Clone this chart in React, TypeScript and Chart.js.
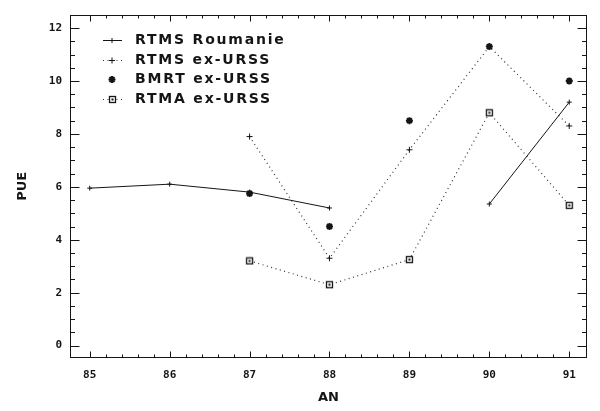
import React, { useEffect, useRef } from 'react';
import { Chart, registerables } from 'chart.js';

Chart.register(...registerables);

// ---- data ----
const years = [85, 86, 87, 88, 89, 90, 91];
const yearLabels = ['85', '86', '87', '88', '89', '90', '91'];
const pueTicks = [0, 2, 4, 6, 8, 10, 12];
const pueTickLabels = ['0', '2', '4', '6', '8', '10', '12'];

const seriesLabels = ['RTMS Roumanie', 'RTMS ex-URSS', 'BMRT ex-URSS', 'RTMA ex-URSS'];
const rtmsRoumanie = [5.95, 6.1, 5.8, 5.2, null, 5.35, 9.2];
const rtmsExUrss = [null, null, 7.9, 3.3, 7.4, 11.3, 8.3];
const bmrtExUrss = [null, null, 5.75, 4.5, 8.5, 11.3, 10.0];
const rtmaExUrss = [null, null, 3.2, 2.3, 3.25, 8.8, 5.3];

const INK = '#151515';

function makeSquareMarker(): HTMLCanvasElement {
  const c = document.createElement('canvas');
  c.width = 9;
  c.height = 9;
  const g = c.getContext('2d')!;
  g.fillStyle = '#fff';
  g.fillRect(1, 1, 7, 7);
  g.strokeStyle = INK;
  g.lineWidth = 1.3;
  g.strokeRect(1.5, 1.5, 6, 6);
  g.fillStyle = INK;
  g.fillRect(3.5, 3.5, 2, 2);
  return c;
}

function toPoints(arr: (number | null)[]) {
  return years.map((x, i) => ({ x, y: arr[i] }));
}

function drawMarker(ctx: CanvasRenderingContext2D, style: any, x: number, y: number, r: number, lw: number) {
  if (style instanceof HTMLCanvasElement) {
    ctx.drawImage(style, Math.round(x - style.width / 2), Math.round(y - style.height / 2));
    return;
  }
  ctx.save();
  ctx.setLineDash([]);
  ctx.lineWidth = lw;
  ctx.strokeStyle = INK;
  ctx.beginPath();
  ctx.moveTo(x - r, y);
  ctx.lineTo(x + r, y);
  ctx.moveTo(x, y - r);
  ctx.lineTo(x, y + r);
  if (style === 'star') {
    const d = r * 0.7071;
    ctx.moveTo(x - d, y - d);
    ctx.lineTo(x + d, y + d);
    ctx.moveTo(x - d, y + d);
    ctx.lineTo(x + d, y - d);
  }
  ctx.stroke();
  ctx.restore();
}

const framePlugin = {
  id: 'frameTicks',
  beforeDatasetsDraw(chart: any) {
    const { ctx, chartArea: a, scales } = chart;
    const xs = scales.x;
    const ys = scales.y;
    ctx.save();
    ctx.strokeStyle = INK;
    ctx.lineWidth = 1;
    ctx.setLineDash([]);
    const L = Math.round(a.left) + 0.5;
    const R = Math.round(a.right) - 0.5;
    const T = Math.round(a.top) + 0.5;
    const B = Math.round(a.bottom) - 0.5;
    ctx.strokeRect(L, T, R - L, B - T);
    ctx.beginPath();
    // y ticks (every 0.5, major every 2)
    for (let k = 0; k * 0.5 <= 12; k++) {
      const v = k * 0.5;
      const major = pueTicks.includes(v);
      const len = major ? 9 : 4.5;
      const py = Math.round(ys.getPixelForValue(v)) + 0.5;
      ctx.moveTo(L, py);
      ctx.lineTo(L + len, py);
      ctx.moveTo(R, py);
      ctx.lineTo(R - len, py);
    }
    // x ticks (every 0.2, major every year)
    for (let k = 0; k <= 30; k++) {
      const v = years[0] + k * 0.2;
      const major = k % 5 === 0;
      const len = major ? 6 : 3;
      const px = Math.round(xs.getPixelForValue(v)) + 0.5;
      ctx.moveTo(px, B);
      ctx.lineTo(px, B - len);
      ctx.moveTo(px, T);
      ctx.lineTo(px, T + len);
    }
    ctx.stroke();
    ctx.restore();
  },
};

const legendPlugin = {
  id: 'plotterLegend',
  afterDatasetsDraw(chart: any) {
    const { ctx } = chart;
    ctx.save();
    chart.data.datasets.forEach((ds: any, i: number) => {
      const cy = Math.round(40 + 19.5 * i) + 0.5;
      if (ds.showLine !== false) {
        ctx.save();
        ctx.strokeStyle = ds.borderColor;
        ctx.lineWidth = ds.borderWidth;
        ctx.setLineDash(ds.borderDash || []);
        ctx.beginPath();
        ctx.moveTo(103, cy);
        ctx.lineTo(122, cy);
        ctx.stroke();
        ctx.restore();
      }
      drawMarker(ctx, ds.pointStyle, 112, cy, ds.pointRadius, ds.pointBorderWidth || 1);
      ctx.fillStyle = INK;
      ctx.font = 'bold 14px "DejaVu Sans"';
      ctx.textBaseline = 'middle';
      ctx.textAlign = 'left';
      try {
        (ctx as any).letterSpacing = '1.8px';
      } catch (e) {}
      ctx.fillText(ds.label, 135, cy);
      try {
        (ctx as any).letterSpacing = '0px';
      } catch (e) {}
    });
    ctx.restore();
  },
};

export default function App() {
  const ref = useRef<HTMLCanvasElement | null>(null);

  useEffect(() => {
    document.body.style.margin = '0';
    document.body.style.background = '#fff';
    const square = makeSquareMarker();
    const tickFont = { family: 'DejaVu Sans Mono', size: 11, weight: 'bold' as const };
    const titleFont = { family: 'DejaVu Sans', size: 13, weight: 'bold' as const };

    const chart = new Chart(ref.current!, {
      type: 'line',
      data: {
        datasets: [
          {
            label: seriesLabels[0],
            data: toPoints(rtmsRoumanie),
            borderColor: INK,
            borderWidth: 1,
            pointStyle: 'cross',
            pointRadius: 2.5,
            pointBorderWidth: 1,
            pointBorderColor: INK,
            spanGaps: false,
          },
          {
            label: seriesLabels[1],
            data: toPoints(rtmsExUrss),
            borderColor: '#333',
            borderWidth: 1.2,
            borderDash: [1, 3.5],
            pointStyle: 'cross',
            pointRadius: 3,
            pointBorderWidth: 1,
            pointBorderColor: INK,
            spanGaps: false,
          },
          {
            label: seriesLabels[2],
            data: toPoints(bmrtExUrss),
            showLine: false,
            borderColor: INK,
            borderWidth: 1,
            pointStyle: 'star',
            pointRadius: 3.5,
            pointBorderWidth: 2,
            pointBorderColor: INK,
          },
          {
            label: seriesLabels[3],
            data: toPoints(rtmaExUrss),
            borderColor: '#333',
            borderWidth: 1.2,
            borderDash: [1, 3.5],
            pointStyle: square as any,
            pointRadius: 4,
            pointBorderWidth: 1,
            spanGaps: false,
          },
        ] as any,
      },
      options: {
        responsive: false,
        animation: false,
        layout: { padding: { top: 13, right: 13, left: 0, bottom: 0 } },
        plugins: {
          legend: { display: false },
          tooltip: { enabled: false },
        },
        scales: {
          x: {
            type: 'linear',
            min: 84.753,
            max: 91.222,
            afterBuildTicks: (s: any) => {
              s.ticks = years.map((v) => ({ value: v }));
            },
            afterFit: (s: any) => {
              s.height = 53;
            },
            grid: { display: false, drawTicks: false },
            border: { display: false },
            ticks: {
              autoSkip: false,
              maxRotation: 0,
              padding: 11,
              color: INK,
              font: tickFont,
              callback: (v: any) => {
                const i = years.indexOf(Number(v));
                return i >= 0 ? yearLabels[i] : '';
              },
            },
            title: {
              display: true,
              text: 'AN',
              color: INK,
              font: titleFont,
              padding: { top: 0, bottom: 6 },
            },
          },
          y: {
            type: 'linear',
            min: -0.47,
            max: 12.51,
            afterBuildTicks: (s: any) => {
              s.ticks = pueTicks.map((v) => ({ value: v }));
            },
            afterFit: (s: any) => {
              s.width = 70;
            },
            grid: { display: false, drawTicks: false },
            border: { display: false },
            ticks: {
              padding: 8,
              color: INK,
              font: tickFont,
              callback: (v: any) => {
                const i = pueTicks.indexOf(Number(v));
                return i >= 0 ? pueTickLabels[i] : '';
              },
            },
            title: {
              display: true,
              text: 'PUE',
              color: INK,
              font: titleFont,
              padding: { top: 15, bottom: 0 },
            },
          },
        },
      } as any,
      plugins: [framePlugin, legendPlugin],
    });
    return () => chart.destroy();
  }, []);

  return (
    <div style={{ width: 600, height: 411 }}>
      <canvas ref={ref} width={600} height={411} style={{ display: 'block' }} />
    </div>
  );
}
